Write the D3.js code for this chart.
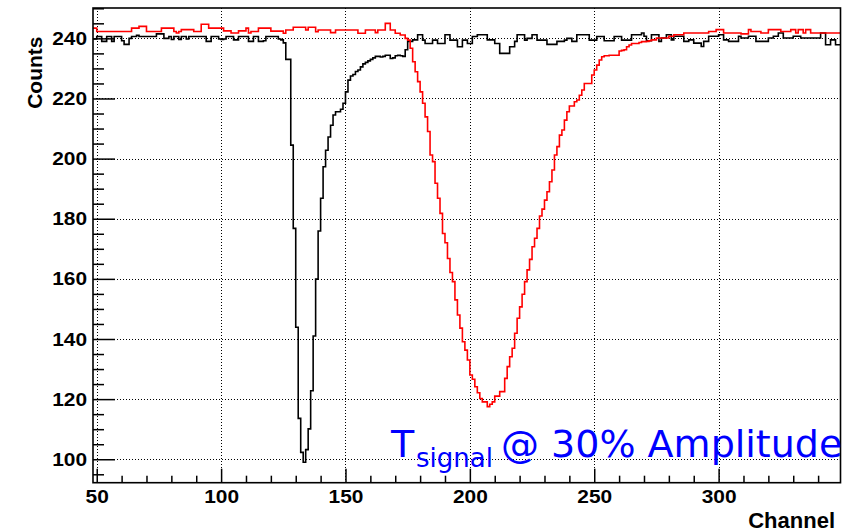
<!DOCTYPE html>
<html>
<head>
<meta charset="utf-8">
<script src="https://cdn.jsdelivr.net/npm/d3@7"></script>
<style>
	body { margin: 0; background: #fff; }
	.axis text { font-family: "Liberation Sans", Arial, Helvetica, sans-serif; font-weight: bold; font-size: 19px; fill: #000; }
	.title { font-family: "Liberation Sans", Arial, Helvetica, sans-serif; font-weight: bold; font-size: 21px; fill: #000; }
</style>
</head>
<body>
<script>
// counts per channel, channel 48 .. 348 (bin k spans k..k+1)
var firstChannel = 48;

var blackCounts = [239.8,
	239.8, 240.6, 240.6, 239, 239, 240.6, 240.6, 239, 240.6, 240.6,
	240.6, 239.2, 238, 238, 240, 240.6, 240.6, 241, 240.6, 240.6,
	240.6, 240.6, 240.6, 240.6, 240.6, 241.5, 241.5, 241.5, 240, 240,
	240.6, 239.6, 240.6, 240.6, 239.6, 240.6, 240.6, 239.8, 240.6, 240.6,
	240.6, 240.6, 240.6, 240.6, 240.6, 239, 239, 240.6, 240.6, 240.6,
	239.8, 239.6, 239.8, 240.6, 240.6, 240.6, 239.5, 239.5, 240.6, 240.6,
	240.6, 240.6, 239, 239, 240.6, 240.6, 239, 239, 239.2, 240.6,
	240.6, 240.6, 240.6, 240.6, 239.8, 239.5, 238.5, 233, 233, 204.5,
	176.8, 143.9, 113.6, 102.3, 99, 103.2, 110.1, 122.8, 141, 159.9,
	175.9, 186.8, 197.3, 202.8, 207.2, 211.1, 214.5, 215.6, 215.6, 216.4,
	218.4, 222.2, 226.1, 227.5, 228, 229, 229.5, 230.5, 231.5, 232,
	232.5, 233, 233.5, 234, 234, 233.8, 234, 234.4, 234.4, 233.3,
	233.5, 234.2, 234.4, 234.2, 234, 236.2, 239, 239, 239.5, 239.5,
	241.2, 241.2, 239.4, 238.3, 238.3, 238.3, 239.4, 239.4, 238.3, 238.3,
	238.3, 241.2, 241.2, 239.4, 239.4, 239.4, 237.2, 237.2, 239.4, 239.4,
	238.3, 238.3, 240.6, 240.6, 241.2, 241.2, 241.2, 241.2, 239.5, 239.5,
	239.5, 238.3, 238.3, 235, 235, 235, 235, 237.2, 237.2, 239,
	241.2, 241.2, 241.2, 239.4, 240, 240, 241.2, 241.2, 239.4, 239.4,
	239.4, 239.4, 238, 238, 238, 238, 239, 239, 239, 239.4,
	240, 240, 239, 239, 241.2, 241.2, 241.2, 241.2, 241.2, 239.4,
	239.4, 239.4, 240.6, 240.6, 240.6, 239.2, 239.2, 239.2, 239.2, 240.6,
	240.6, 240.6, 239.4, 239.4, 239.4, 239.4, 241.2, 241.2, 241.2, 241.2,
	241.8, 240.7, 239.2, 239.2, 241.2, 241.2, 241.2, 239, 240.1, 240.1,
	241.2, 241.2, 239.5, 240.7, 240.7, 240.7, 240.7, 239, 239, 239.5,
	239.5, 238.4, 238.4, 238.4, 237.3, 239, 239, 240.7, 240.7, 240.7,
	240.7, 241.2, 241.2, 239.5, 239.5, 239, 239, 239, 239, 240.7,
	240.1, 240.1, 240.1, 240.7, 240.7, 240.7, 239, 239, 239, 239,
	239, 240.1, 240.1, 240.7, 240.7, 241.8, 241.8, 240.1, 240.1, 240.1,
	240.1, 240.7, 240.7, 240.7, 240.1, 240.1, 240.1, 240.1, 240.1, 240.1,
	240.1, 240.1, 241.8, 241.8, 237.9, 237.9, 239.5, 239.5, 237.9, 237.9];

var redCounts = [243.4,
	243.4, 242.3, 242.3, 242.3, 242.3, 242.3, 242.3, 242.3, 242.3, 242.3,
	242.3, 242.3, 242.3, 242.3, 242.3, 243.4, 243.4, 243.4, 244, 244,
	244, 242.3, 242.3, 242.3, 242.3, 242.3, 242.3, 243.4, 243.4, 243.4,
	243.4, 243.4, 242.3, 241.8, 242.3, 242.9, 242.9, 242.9, 242.9, 242.9,
	242.3, 242.3, 242.3, 244.7, 244.7, 244.7, 243.4, 243.4, 243.4, 243.4,
	243.4, 243.4, 242.5, 242.5, 242.5, 241.8, 241.8, 241.8, 242.5, 242.5,
	242.5, 243.4, 241.8, 242.3, 242.3, 242.3, 243.4, 243.4, 243.4, 243.4,
	243.4, 242.4, 242.4, 242.4, 242.4, 242.4, 241.7, 242.8, 242.8, 242.8,
	243.7, 243.7, 243.7, 243.7, 243.7, 242.8, 243.7, 243.7, 243.7, 242.2,
	242.8, 242.8, 242.8, 242.8, 242.8, 241.9, 241.9, 242.8, 242.8, 242.8,
	242.8, 242.8, 242.8, 242.8, 242.8, 242.8, 241.7, 241.7, 241.7, 242.8,
	242.8, 242.8, 242.8, 241.9, 242.8, 242.8, 242.8, 245, 245, 242.8,
	242.8, 241.7, 241.7, 241.1, 241.1, 240, 239.4, 236.7, 232.2, 228.9,
	225.6, 222.2, 218.4, 213.9, 209, 201.2, 199, 191.8, 186.8, 181.8,
	175.1, 172, 166.8, 162.1, 159.1, 153, 148, 143.6, 139.1, 136.3,
	133, 128, 126.6, 124.1, 122.1, 120.2, 119.1, 119.1, 117.5, 118.3,
	119.1, 121, 121, 122.5, 122.5, 126.9, 130.8, 134.1, 136.9, 141.9,
	146.9, 150.7, 154.9, 159.1, 163, 166.5, 170.7, 173.5, 176.8, 180.9,
	183.2, 186.2, 189, 192.3, 196.2, 201.2, 204, 207.8, 209.5, 212.8,
	215.6, 217.5, 217.5, 218.9, 219.5, 221.1, 222.8, 225, 225, 225,
	227.8, 229.5, 231.1, 232.8, 233.9, 234.2, 234.2, 234.4, 234.4, 234.4,
	234.4, 235.8, 236, 236.2, 237.2, 237.8, 238.3, 238.3, 238.3, 238.6,
	238.9, 238.9, 239, 239.2, 239.5, 239.5, 240.1, 240.1, 240.1, 240.1,
	240.1, 240.7, 240.7, 241.2, 241.2, 241.2, 241.2, 241.8, 241.8, 241.8,
	241.8, 241.8, 241.8, 241.8, 241.8, 241.8, 241.8, 242.3, 242.3, 242.3,
	242.9, 242.9, 242.9, 241.8, 241.8, 241.8, 241.8, 241.8, 241.8, 241.8,
	241.5, 241.5, 241.5, 242.9, 242.3, 242.3, 242.3, 242.3, 241.8, 241.8,
	241.8, 242.9, 242.9, 242.9, 242.9, 242.9, 242.3, 242.3, 242.3, 242.3,
	242.9, 242.9, 241.8, 242.9, 242.9, 241.8, 242.9, 242.9, 241.8, 241.8,
	241.8, 241.8, 241.8, 241.8, 241.8, 241.8, 241.8, 241.8, 241.8, 241.8];

var xMajor = [50, 100, 150, 200, 250, 300],
	xMinor = [60, 70, 80, 90, 110, 120, 130, 140, 160, 170, 180, 190, 210, 220, 230, 240,
		260, 270, 280, 290, 310, 320, 330, 340],
	yMajor = [100, 120, 140, 160, 180, 200, 220, 240],
	yMinor = [95, 105, 110, 115, 125, 130, 135, 145, 150, 155, 165, 170, 175, 185, 190, 195,
		205, 210, 215, 225, 230, 235, 245, 250];

var xTitle = 'Channel',
	yTitle = 'Counts';

var frame = {left: 93, right: 840.5, top: 8, bottom: 482.7},
	stretch = 1.1; // tick labels in the original are drawn a bit wide

var x = d3.scaleLinear()
	.domain([48.5, 349])
	.range([frame.left, frame.right]);

var y = d3.scaleLinear()
	.domain([92.2, 250.1])
	.range([frame.bottom, frame.top]);

var svg = d3.select('body')
	.append('svg')
	.attr('width', 852)
	.attr('height', 532);

svg.append('defs').append('clipPath')
	.attr('id', 'frameclip')
	.append('rect')
	.attr('x', frame.left)
	.attr('y', frame.top)
	.attr('width', frame.right - frame.left)
	.attr('height', frame.bottom - frame.top);

// dotted grid
var grid = svg.append('g')
	.attr('stroke', '#000')
	.attr('stroke-width', 1)
	.attr('stroke-dasharray', '1,2');

grid.selectAll('line.gx')
	.data(xMajor)
	.enter().append('line')
	.attr('class', 'gx')
	.attr('x1', function(d) { return Math.round(x(d)) + 0.5 })
	.attr('x2', function(d) { return Math.round(x(d)) + 0.5 })
	.attr('y1', frame.top)
	.attr('y2', frame.bottom);

grid.selectAll('line.gy')
	.data(yMajor)
	.enter().append('line')
	.attr('class', 'gy')
	.attr('x1', frame.left)
	.attr('x2', frame.right)
	.attr('y1', function(d) { return Math.round(y(d)) + 0.5 })
	.attr('y2', function(d) { return Math.round(y(d)) + 0.5 });

// histograms
function bins(counts) {
	var pts = counts.map(function(v, i) { return {ch: firstChannel + i, v: v} });
	pts.push({ch: firstChannel + counts.length, v: counts[counts.length - 1]});
	return pts;
}

var step = d3.line()
	.x(function(d) { return x(d.ch) })
	.y(function(d) { return y(d.v) })
	.curve(d3.curveStepAfter);

var plot = svg.append('g')
	.attr('clip-path', 'url(#frameclip)');

plot.append('path')
	.datum(bins(blackCounts))
	.attr('d', step)
	.attr('fill', 'none')
	.attr('stroke', '#000')
	.attr('stroke-width', 1.6);

plot.append('path')
	.datum(bins(redCounts))
	.attr('d', step)
	.attr('fill', 'none')
	.attr('stroke', '#ff0000')
	.attr('stroke-width', 1.6);

// axes, ticks pointing inwards
var yAxis = d3.axisLeft(y)
	.tickValues(yMajor)
	.tickSizeInner(-22)
	.tickSizeOuter(0)
	.tickPadding(6)
	.tickFormat(d3.format('d'));

var yMinorAxis = d3.axisLeft(y)
	.tickValues(yMinor)
	.tickSizeInner(-11)
	.tickSizeOuter(0)
	.tickFormat('');

var xAxis = d3.axisBottom(x)
	.tickValues(xMajor)
	.tickSizeInner(-14)
	.tickSizeOuter(0)
	.tickPadding(7)
	.tickFormat(d3.format('d'));

var xMinorAxis = d3.axisBottom(x)
	.tickValues(xMinor)
	.tickSizeInner(-7)
	.tickSizeOuter(0)
	.tickFormat('');

[[yAxis, 'translate(' + frame.left + ',0)'],
 [yMinorAxis, 'translate(' + frame.left + ',0)'],
 [xAxis, 'translate(0,' + frame.bottom + ')'],
 [xMinorAxis, 'translate(0,' + frame.bottom + ')']].forEach(function(a) {
	var g = svg.append('g')
		.attr('class', 'axis')
		.attr('transform', a[1])
		.call(a[0]);
	g.select('.domain').remove();
	g.selectAll('.tick line')
		.attr('stroke', '#000')
		.attr('stroke-width', 1.5);
	g.selectAll('.tick text')
		.attr('x', function() { return (+this.getAttribute('x') || 0) / stretch })
		.attr('transform', 'scale(' + stretch + ',1)');
});

// frame
svg.append('rect')
	.attr('x', frame.left)
	.attr('y', frame.top)
	.attr('width', frame.right - frame.left)
	.attr('height', frame.bottom - frame.top)
	.attr('fill', 'none')
	.attr('stroke', '#000')
	.attr('stroke-width', 1.6);

// axis titles
svg.append('text')
	.attr('class', 'title')
	.attr('text-anchor', 'end')
	.attr('transform', 'translate(41.5,36.5) rotate(-90)')
	.text(yTitle);

svg.append('text')
	.attr('class', 'title')
	.attr('text-anchor', 'end')
	.attr('font-size', 22)
	.style('font-size', '22px')
	.attr('x', 835)
	.attr('y', 528.3)
	.text(xTitle);

// annotation
var note = svg.append('text')
	.attr('font-family', '"DejaVu Sans", Verdana, sans-serif')
	.attr('fill', '#0000ff');

note.append('tspan')
	.attr('x', 391)
	.attr('y', 456.7)
	.attr('font-size', 38)
	.text('T');

note.append('tspan')
	.attr('x', 416)
	.attr('y', 467.3)
	.attr('font-size', 26)
	.text('signal');

note.append('tspan')
	.attr('x', 501)
	.attr('y', 456.7)
	.attr('font-size', 38)
	.text('@ 30% Amplitude');
</script>
</body>
</html>
